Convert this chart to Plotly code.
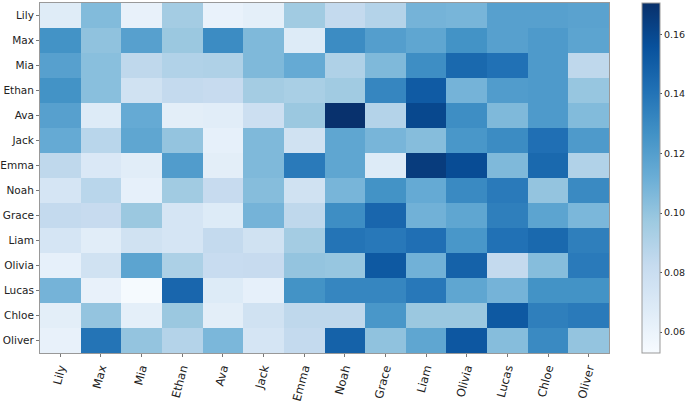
import plotly.graph_objects as go

# nomes nos dois eixos (mesma ordem)
names = ['Lily', 'Max', 'Mia', 'Ethan', 'Ava', 'Jack', 'Emma',
         'Noah', 'Grace', 'Liam', 'Olivia', 'Lucas', 'Chloe', 'Oliver']

# uma lista por linha (de cima para baixo)
row_lily = [0.067, 0.105, 0.062, 0.095, 0.061, 0.064, 0.096, 0.083, 0.089, 0.109, 0.108, 0.119, 0.119, 0.118]
row_max = [0.126, 0.101, 0.119, 0.098, 0.129, 0.106, 0.068, 0.129, 0.120, 0.116, 0.126, 0.119, 0.122, 0.117]
row_mia = [0.119, 0.103, 0.085, 0.090, 0.091, 0.106, 0.114, 0.091, 0.106, 0.128, 0.145, 0.141, 0.122, 0.085]
row_ethan = [0.126, 0.103, 0.076, 0.083, 0.082, 0.095, 0.093, 0.096, 0.132, 0.151, 0.109, 0.121, 0.122, 0.099]
row_ava = [0.119, 0.068, 0.114, 0.065, 0.066, 0.079, 0.098, 0.170, 0.089, 0.160, 0.128, 0.106, 0.122, 0.105]
row_jack = [0.114, 0.087, 0.116, 0.100, 0.063, 0.106, 0.076, 0.116, 0.108, 0.104, 0.124, 0.129, 0.142, 0.122]
row_emma = [0.085, 0.070, 0.066, 0.121, 0.065, 0.106, 0.137, 0.116, 0.068, 0.165, 0.158, 0.106, 0.145, 0.090]
row_noah = [0.073, 0.087, 0.063, 0.096, 0.082, 0.104, 0.076, 0.108, 0.126, 0.114, 0.130, 0.137, 0.100, 0.130]
row_grace = [0.083, 0.082, 0.098, 0.073, 0.068, 0.109, 0.085, 0.128, 0.146, 0.110, 0.116, 0.135, 0.117, 0.107]
row_liam = [0.073, 0.066, 0.076, 0.073, 0.083, 0.076, 0.095, 0.140, 0.138, 0.142, 0.124, 0.141, 0.145, 0.135]
row_olivia = [0.063, 0.076, 0.117, 0.092, 0.081, 0.082, 0.100, 0.099, 0.152, 0.110, 0.148, 0.083, 0.104, 0.137]
row_lucas = [0.109, 0.062, 0.054, 0.146, 0.068, 0.063, 0.126, 0.132, 0.132, 0.138, 0.116, 0.109, 0.126, 0.126]
row_chloe = [0.065, 0.100, 0.064, 0.098, 0.065, 0.076, 0.085, 0.085, 0.124, 0.098, 0.098, 0.152, 0.135, 0.137]
row_oliver = [0.062, 0.140, 0.100, 0.089, 0.107, 0.073, 0.083, 0.148, 0.101, 0.116, 0.153, 0.104, 0.130, 0.100]

z = [row_lily, row_max, row_mia, row_ethan, row_ava, row_jack, row_emma,
     row_noah, row_grace, row_liam, row_olivia, row_lucas, row_chloe, row_oliver]

# escala Blues do colorbrewer (igual à do matplotlib)
blues = ['rgb(247,251,255)', 'rgb(222,235,247)', 'rgb(198,219,239)', 'rgb(158,202,225)',
         'rgb(107,174,214)', 'rgb(66,146,198)', 'rgb(33,113,181)', 'rgb(8,81,156)', 'rgb(8,48,107)']
escala = [[i / 8, c] for i, c in enumerate(blues)]

fig = go.Figure(go.Heatmap(
    z=z, x=names, y=names,
    colorscale=escala, zmin=0.053, zmax=0.1705,
    colorbar=dict(
        x=1.058, xanchor='left', y=0.5, yanchor='middle',
        len=1.0, lenmode='fraction', thickness=18, ypad=0, xpad=0,
        outlinecolor='#999999', outlinewidth=1,
        tickvals=[0.06, 0.08, 0.10, 0.12, 0.14, 0.16],
        ticktext=['0.06', '0.08', '0.10', '0.12', '0.14', '0.16'],
        ticks='outside', ticklen=2, tickcolor='#555555',
        tickfont=dict(size=9.5, color='#222222'),
    ),
))

fig.update_layout(
    width=685, height=404,
    margin=dict(l=40, r=76, t=3, b=51, autoexpand=False),
    plot_bgcolor='white', paper_bgcolor='white',
    font=dict(family='DejaVu Sans', color='#222222'),
    xaxis=dict(tickangle=-75, tickfont=dict(size=11.5), ticks='outside', ticklen=3,
               tickcolor='#777777', showline=True, mirror=True, linecolor='#999999',
               linewidth=1, showgrid=False, automargin=False),
    yaxis=dict(autorange='reversed', tickfont=dict(size=10.5), ticks='outside', ticklen=3,
               tickcolor='#777777', showline=True, mirror=True, linecolor='#999999',
               linewidth=1, showgrid=False, automargin=False),
)

# tira a margem padrão do <body> para a figura ficar no canto da janela
fig.write_html("out.html", config={'displayModeBar': False},
               post_script="document.body.style.margin='0px';")
